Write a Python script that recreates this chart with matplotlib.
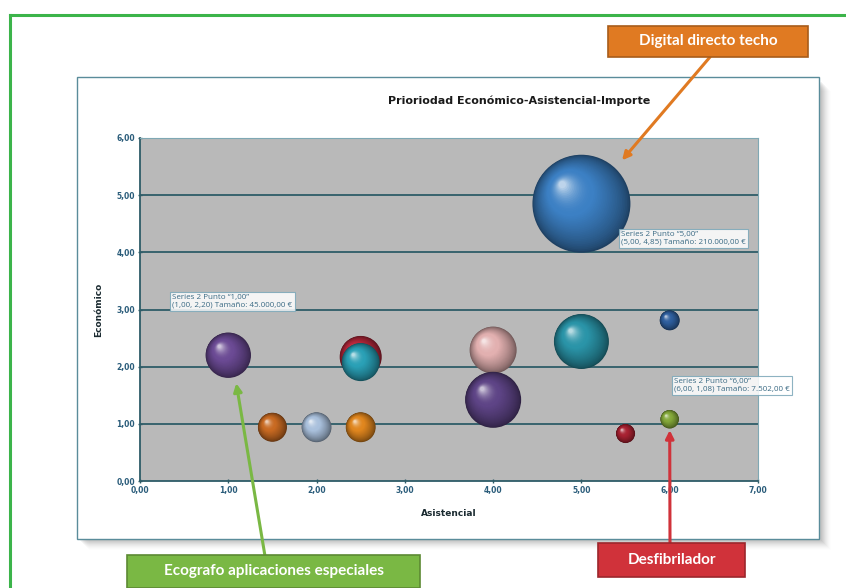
import matplotlib
matplotlib.use("Agg")
import matplotlib.pyplot as plt
import matplotlib.colors as mcolors
from matplotlib.patches import Rectangle
from matplotlib.transforms import offset_copy
import numpy as np

# ---------------- data ----------------
title = "Prioriodad Económico-Asistencial-Importe"
x_label = "Asistencial"
y_label = "Económico"
asistencial = [1.0, 1.5, 2.0, 2.5, 2.5, 2.5, 4.0, 4.0, 5.0, 5.0, 5.5, 6.0, 6.0]
economico = [2.20, 0.94, 0.94, 0.94, 2.17, 2.08, 2.29, 1.42, 2.44, 4.85, 0.83, 2.81, 1.08]
importe = [45000, 18400, 19500, 19500, 38600, 31600, 48300, 68600, 66100, 210000, 7900, 8700, 7502]
bubble_colors = ["#6b4a94", "#c86a22", "#a9c0dc", "#e0861e", "#b8283c", "#2aa0b6",
                 "#e2b0b0", "#5e4486", "#2a94a8", "#3c80c4", "#a82232", "#2f5f9e", "#84a83a"]
x_ticks = [0, 1, 2, 3, 4, 5, 6, 7]
y_ticks = [0, 1, 2, 3, 4, 5, 6]
labelled_points = [0, 9, 12]          # indices of points with data labels
label_pos_px = [(172, 294), (621, 231), (674, 378)]
callouts = ["Digital directo techo", "Ecografo aplicaciones especiales", "Desfibrilador"]
callout_colors = ["#e07a22", "#7ab844", "#d0323a"]
callout_box_px = [(608, 26, 808, 57), (127, 555, 420, 588), (598, 543, 745, 577)]
callout_target = [(5.46, 5.61), (1.09, 1.71), (6.0, 0.89)]
callout_tail_px = [(710, 57), (265, 556), (670, 543)]


def fmt(v, dec=2):
    s = f"{v:,.{dec}f}"
    return s.replace(",", "X").replace(".", ",").replace("X", ".")


W, H = 846, 588
fig = plt.figure(figsize=(W / 100, H / 100), dpi=100)
fig.patch.set_facecolor("white")


def fx(px):
    return px / W


def fy(py):
    return 1 - py / H


# green outer border (top & left)
fig.add_artist(plt.Line2D([fx(10), 1], [fy(15), fy(15)], color="#3cb44a", lw=2.2))
fig.add_artist(plt.Line2D([fx(10), fx(10)], [fy(15), 0], color="#3cb44a", lw=2.2))

# chart frame with shadow
for i in range(10):
    a = 0.06 * (1 - i / 10)
    fig.add_artist(Rectangle((fx(80 + i), fy(539 + 2 + i)), fx(742), fy(80) - fy(539),
                             transform=fig.transFigure, facecolor="#404040", alpha=a,
                             edgecolor="none", zorder=0))
fig.add_artist(Rectangle((fx(77), fy(539)), fx(742), fy(77) - fy(539),
                         transform=fig.transFigure, facecolor="white",
                         edgecolor="#5a8c9a", lw=1.0, zorder=1))

ax = fig.add_axes([fx(140), fy(481), fx(758) - fx(140), fy(138) - fy(481)])
ax.set_zorder(2)
ax.set_facecolor("#b9b9b9")
ax.set_xlim(0, 7)
ax.set_ylim(0, 6)
for yv in y_ticks[1:]:
    ax.axhline(yv, color="#2e5c68", lw=1.3, zorder=1)

tick_col = "#2a5c7a"
ax.set_xticks(x_ticks)
ax.set_yticks(y_ticks)
ax.set_xticklabels([fmt(v) for v in x_ticks], fontsize=5.5, fontweight="bold", color=tick_col)
ax.set_yticklabels([fmt(v) for v in y_ticks], fontsize=5.5, fontweight="bold", color=tick_col)
ax.tick_params(axis="both", length=3, width=1, color="#2e5c68", direction="inout", pad=2)
for sp in ["top", "right"]:
    ax.spines[sp].set_color("#7fa8b4")
    ax.spines[sp].set_linewidth(0.8)
for sp in ["left", "bottom"]:
    ax.spines[sp].set_color("#2e5c68")
    ax.spines[sp].set_linewidth(1.3)
ax.set_xlabel(x_label, fontsize=6.5, fontweight="bold", color="#1a2a30", labelpad=10)
ax.set_ylabel(y_label, fontsize=6.5, fontweight="bold", color="#1a2a30", labelpad=10)
fig.text(fx(519), fy(101), title, ha="center", va="center", fontsize=8,
         fontweight="bold", color="#1a1a1a")

# bubbles as shaded spheres
max_r_pt = 49 * 0.72
s_scale = (2 * max_r_pt) ** 2 / max(importe)
white = np.array([1, 1, 1])
n_layers = 40
for i in range(len(asistencial)):
    base = np.array(mcolors.to_rgb(bubble_colors[i]))
    s = importe[i] * s_scale
    r_pt = np.sqrt(s) / 2
    ax.scatter([asistencial[i]], [economico[i]], s=s, color=base * 0.5, zorder=3 + i * 0.01,
               edgecolors="none")
    for k in range(1, n_layers):
        f = k / n_layers
        frac = 1 - 0.95 * f
        if f < 0.55:
            col = base * (0.5 + 0.5 * (f / 0.55) ** 0.7)
        else:
            col = base + (white - base) * (((f - 0.55) / 0.45) ** 2.2) * 0.75
        col = np.clip(col, 0, 1)
        off = r_pt * (1 - frac) * 0.42
        tr = offset_copy(ax.transData, fig=fig, x=-off, y=off, units="points")
        ax.scatter([asistencial[i]], [economico[i]], s=s * frac ** 2, color=col,
                   transform=tr, zorder=3 + i * 0.01 + k * 0.0002, edgecolors="none")

# data labels
for idx, (px, py) in zip(labelled_points, label_pos_px):
    txt = (f"Series 2 Punto \u201c{fmt(asistencial[idx])}\u201d\n"
           f"({fmt(asistencial[idx])}, {fmt(economico[idx])}) Tamaño: {fmt(importe[idx])} €")
    fig.text(fx(px), fy(py), txt, ha="left", va="top", fontsize=5.8, color="#3a6a84",
             family="Open Sans", linespacing=1.2, zorder=10,
             bbox=dict(boxstyle="square,pad=0.3", facecolor="white", alpha=0.85,
                       edgecolor="#7aa6b8", lw=0.8))

# callouts
for name, col, box, tgt, tail in zip(callouts, callout_colors, callout_box_px,
                                     callout_target, callout_tail_px):
    x0, y0, x1, y1 = box
    ax.annotate("", xy=tgt, xycoords="data",
                xytext=(fx(tail[0]), fy(tail[1])), textcoords="figure fraction",
                arrowprops=dict(arrowstyle="-|>", color=col, lw=2.2, mutation_scale=12,
                                shrinkA=0, shrinkB=0),
                annotation_clip=False, zorder=11)
    fig.add_artist(Rectangle((fx(x0), fy(y1)), fx(x1 - x0), fy(y0) - fy(y1),
                             transform=fig.transFigure, facecolor=col,
                             edgecolor=np.clip(np.array(mcolors.to_rgb(col)) * 0.75, 0, 1),
                             lw=1.2, zorder=12))
    fig.text(fx((x0 + x1) / 2), fy((y0 + y1) / 2), name, ha="center", va="center",
             fontsize=11, fontweight="bold", color="white", family="Lato", zorder=13)

fig.savefig("out.png", dpi=100, facecolor="white")
